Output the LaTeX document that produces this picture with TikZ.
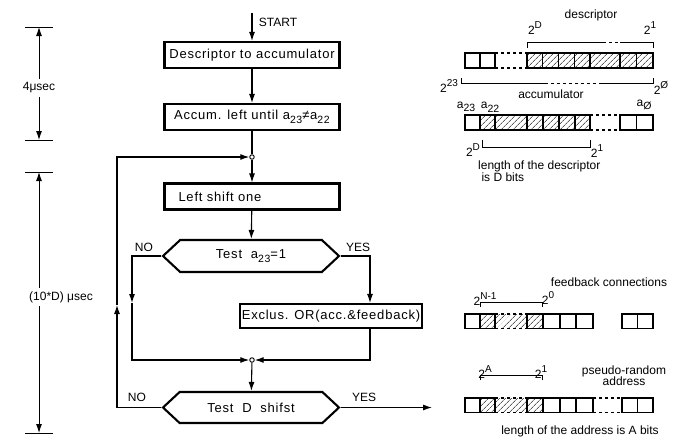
\documentclass[tikz,border=0pt]{standalone}
\usepackage{fontspec}
\setmainfont{Liberation Sans}
\newfontfamily\boxfont[LetterSpace=6]{Liberation Sans}
\newcommand\upx[1]{\raisebox{0.55em}{\fontsize{10}{10}\selectfont #1}}
\newcommand\dnx[1]{\raisebox{-0.3em}{\fontsize{10.5}{10}\selectfont #1}}
\usetikzlibrary{arrows.meta,calc,positioning,shapes.symbols,patterns.meta}

\begin{document}
\begin{tikzpicture}[x=1pt, y=-1pt, >={Latex[length=9pt,width=6pt]}, font=\fontsize{12}{14}\selectfont,
  proc/.style={draw, line width=2.1pt, minimum width=175, minimum height=26, inner sep=2pt, font=\boxfont\fontsize{13}{15}\selectfont},
  test/.style={signal, signal to=west and east, signal pointer angle=86, draw, line width=2.1pt,
    minimum width=176, minimum height=32, inner sep=0pt, font=\boxfont\fontsize{13}{15}\selectfont},
  dot/.style={circle, draw, fill=white, inner sep=0pt, minimum size=4.5pt, line width=0.9pt},
  flow/.style={line width=1.1pt},
  cell/.style={line width=1.3pt},
  hatched/.style={pattern={Lines[angle=45,distance=4pt,line width=0.6pt]}},
  brk/.style={line width=0.9pt},
  dim/.style={line width=0.9pt},
]
  \useasboundingbox[fill=white] (0,0) rectangle (680,437);

  \coordinate (start) at (252,13);
  \node[proc] (acc) at (252,55) {Descriptor to accumulator};
  \node[proc] (norm) at (252,117) {Accum. left until a\dnx{23}≠a\dnx{22}};
  \node[dot] (j1) at (252,157) {};
  \node[proc, text width=147pt, inner xsep=14pt, align=left] (shift) at (252,196.5) {Left shift one};
  \node[test] (bit) at (251,256) {Test \ a\dnx{23}=1};
  \node[proc, minimum height=24] (xor) at (331,316) {Exclus. OR(acc.\&feedback)};
  \node[dot] (j2) at (252,360) {};
  \node[test, minimum height=31] (count) at (251,407.5) {Test \ D \ shifst};

  \coordinate (noM) at (132,303);
  \coordinate (noX) at (132,360);
  \coordinate (loopM) at (117,305);
  \coordinate (loopX) at (117,157);
  \coordinate (yesX) at (370,0);
  \coordinate (out) at (432,0);

  \draw[flow,->] (start) -- (acc) node[pos=0.35, right=3pt] (go) {START};
  \draw[flow,->] (acc) -- (norm);
  \draw[flow] (norm) -- (j1);
  \draw[flow,->] (j1) -- (shift);
  \draw[flow,->] (shift) -- (bit);
  \draw[flow,->] (bit.west) -| (noM);
  \draw[flow,->] (noM) |- (j2);
  \draw[flow,->] (bit.east) -| (xor.north -| yesX);
  \draw[flow,->] (xor.south -| yesX) |- (j2);
  \draw[flow,->] (j2) -- (count);
  \draw[flow,->] (count.west) -| (loopM);
  \draw[flow,->] (loopM) |- (j1);
  \draw[flow,->] (count.east) -- (count.east -| out);

  \node[above left=1pt and 5pt of bit.west] (noA) {NO};
  \node[above right=1pt and 2pt of bit.east] (yesA) {YES};
  \node[above left=2pt and 12pt of count.west] (noB) {NO};
  \node[above right=2pt and 8pt of count.east] (yesB) {YES};

  \coordinate (d1t) at (39,27);
  \coordinate (d1b) at (39,140);
  \coordinate (d2t) at (39,172);
  \coordinate (d2b) at (39,433);
  \foreach \p in {d1t,d1b,d2t,d2b}
    \draw[dim] ($(\p)+(-14,0)$) -- ($(\p)+(14,0)$);
  \draw[dim,<->] (d1t) -- (d1b) node[pos=0.54, fill=white] (t4) {4μsec};
  \draw[dim,<->] (d2t) -- (d2b);
  \node[fill=white] (t10) at (61,297) {(10*D) μsec};

  \draw[cell] (465,53) rectangle (495,68) (480,53) -- (480,68);
  \draw[cell,dashed] (495,53) -- (527,53) (495,68) -- (527,68);
  \draw[cell,hatched] (527,53) rectangle (653,68);
  \foreach \x in {542.75,558.5,574.25,590,620,636.5}
    \draw[cell] (\x,53) -- (\x,68);

  \draw[cell] (465,115) rectangle (480,130);
  \draw[cell,hatched] (480,115) rectangle (590,130);
  \foreach \x in {495,527,543,559,575}
    \draw[cell] (\x,115) -- (\x,130);
  \draw[cell,dashed] (590,115) -- (620,115) (590,130) -- (620,130);
  \draw[cell] (620,115) rectangle (653,130) (636.5,115) -- (636.5,130);

  \foreach \y in {314,398} {
    \path[hatched] (480,\y) rectangle (543,\y+14.5);
    \foreach \a/\b in {465/480,480/495,527/543,543/560,560/576,576/593,622/637.5,637.5/653}
      \draw[cell] (\a,\y) rectangle (\b,\y+14.5);
    \draw[cell,dashed] (495,\y) -- (527,\y) (495,\y+14.5) -- (527,\y+14.5);
  }
  \draw[cell,dashed] (593,398) -- (622,398) (593,412.5) -- (622,412.5);

  \draw[brk] (527,48) -- (527,42) -- (603,42);
  \draw[brk,dashed] (603,42) -- (620,42);
  \draw[brk] (620,42) -- (653,42) -- (653,48);
  \draw[brk] (461,78) -- (461,83) -- (545,83);
  \draw[brk,dashed] (545,83) -- (600,83);
  \draw[brk] (600,83) -- (653,83) -- (653,78);
  \draw[brk] (482,140) |- (590,147) -- (590,140);
  \draw[brk] (480,307) |- (542,302) -- (542,307);
  \draw[brk] (480,380) |- (542,375) -- (542,380);

  \node (desc) at (591,15) {descriptor};
  \node (dHi) at (535,28) {2\upx{D}};
  \node (dLo) at (650,28) {2\upx{1}};
  \node (aHi) at (449,86) {2\upx{23}};
  \node (aLo) at (661,88) {2\upx{Ø}};
  \node (accu) at (551,94) {accumulator};
  \node (a23) at (466,107) {a\dnx{23}};
  \node (a22) at (490,107) {a\dnx{22}};
  \node (a0) at (644,105) {a\dnx{Ø}};
  \node (lHi) at (473,150) {2\upx{D}};
  \node (lLo) at (597,151) {2\upx{1}};
  \node[anchor=west, align=left, inner sep=0pt] (len) at (478,171) {length of the descriptor\\[-2pt]\ is D bits};
  \node (fb) at (609,282) {feedback connections};
  \node (fHi) at (485,299) {2\upx{N-1}};
  \node (fLo) at (548,298) {2\upx{0}};
  \node (rHi) at (485,372) {2\upx{A}};
  \node (rLo) at (541,372) {2\upx{1}};
  \node[align=center, inner sep=0pt] (prn) at (624,376) {pseudo-random\\[-3pt]address};
  \node (alen) at (580,431) {length of the address is A bits};
\end{tikzpicture}
\end{document}
